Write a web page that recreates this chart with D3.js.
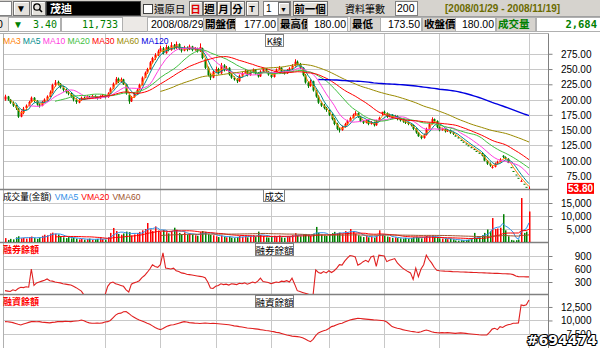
<!DOCTYPE html>
<html><head><meta charset="utf-8">
<script src="https://cdn.jsdelivr.net/npm/d3@7"></script>
<style>
body{margin:0;background:#fff;overflow:hidden}
svg{display:block}
</style></head><body>
<svg id="c" width="600" height="348"></svg>
<script>
// Daily bars, 2008/01/29 - 2008/11/19
const opens=[200,205,200,195,190,185,172,178,186,190,
196,203,198,192,190,196,200,205,212,224,
229,226,220,216,212,210,205,200,195,199,
203,202,205,203,206,204,202,205,207,204,
210,218,226,234,229,233,225,208,197,204,
209,216,224,236,244,250,261,268,273,279,
284,276,286,281,289,284,291,283,280,285,
282,287,281,284,279,284,266,252,240,236,
246,250,243,256,248,252,241,236,233,230,
239,243,247,240,245,249,243,238,246,250,
246,241,237,244,249,252,246,243,248,251,
255,262,258,252,240,228,222,230,215,205,
195,190,186,183,175,168,160,152,150,155,
160,165,170,175,178,172,165,162,166,160,
163,158,165,177,180,178,172,175,170,173,
168,166,164,162,160,158,152,146,140,137,
142,152,160,168,165,155,150,152,148,150,
146,141,138,134,131,128,125,122,119,116,
113,112,108,100,95,88,90,95,98,108,
106,103,89.4,83.1,77.3,71.9,66.5,62.2,57.2,53.6];
const highs=[208,206,201,197,191,186,182,188,192,198,
205,204,199,194,198,202,207,215,226,232,
231,227,222,218,214,211,207,202,201,205,
205,207,206,208,207,205,207,209,208,212,
220,228,237,236,236,234,226,210,206,211,
218,226,238,246,252,263,270,276,282,288,
286,290,288,294,291,295,292,285,288,287,
290,288,286,285,292,285,268,254,243,248,
254,252,260,258,255,253,243,238,235,241,
245,250,248,247,251,250,245,248,252,251,
247,243,246,251,255,253,248,250,253,258,
266,264,260,253,242,230,233,231,216,207,
197,193,188,184,177,170,162,154,157,162,
167,172,177,181,179,173,166,168,167,165,
164,167,172,180,182,179,177,176,175,174,
169,167,166,163,161,159,153,147,142,144,
154,162,171,169,166,157,154,153,152,151,
147,141.5,138,134,131,128,125,122,119,116,
113,113,109,101,97,92,97,100,104,109,
107,104,89.4,83.1,77.3,71.9,69,62.2,57.2,57.9];
const lows=[198,198,193,188,183,170,171,176,183,189,
195,196,190,187,189,194,198,204,210,221,
223,218,213,210,207,203,197,193,194,198,
200,201,201,202,202,200,201,204,202,203,
209,217,225,227,228,224,208,193,196,203,
208,215,223,235,242,249,259,265,271,277,
274,275,279,280,282,283,281,277,279,279,
281,279,280,277,278,266,250,238,232,235,
244,241,242,246,247,239,234,231,227,229,
237,242,238,239,243,241,236,237,245,244,
239,235,236,243,248,244,241,242,246,250,
254,256,250,238,226,219,221,213,203,193,
188,184,180,173,166,158,150,146,149,154,
158,164,169,173,170,163,160,161,158,159,
156,157,164,173.5,176,170,171,168,169,166,
164,162,160,158,156,150,144,139,135,136,
141,151,159,162,153,148,149,146,147,144,
142,140,137,133,130,127,124,121,118,115,
112,107,99,93,90,87,89,94,97,104,
102,96,89.4,83.1,77.3,71.9,66,62.2,57.2,53.6];
const closes=[205,200,195,190,186,172,178,185,190,196,
203,198,192,190,196,200,205,212,224,228,
226,220,216,212,210,205,200,196,199,203,
202,205,203,206,204,202,205,207,204,210,
218,226,234,229,233,225,210,197,204,209,
216,224,236,244,250,261,268,273,279,284,
276,286,281,289,284,291,283,280,285,282,
287,281,284,279,286,268,252,240,236,246,
250,243,256,248,252,241,236,233,230,239,
243,247,240,245,249,243,238,246,250,246,
241,237,244,249,252,246,243,248,251,255,
262,258,252,240,228,222,230,215,205,195,
190,186,183,175,168,160,152,150,155,160,
165,170,175,178,172,165,162,166,160,163,
158,165,170,180,178,172,175,170,173,168,
166,164,162,160,158,152,146,140,137,142,
152,160,168,165,155,150,152,148,150,146,
144,140,137,133,130,127,124,121,118,115,
112,108,100,95,92,90,95,98,102,106,
104,96.1,89.4,83.1,77.3,71.9,66.9,62.2,57.2,53.8];
const volumes=[1500,800,1200,1000,1800,2200,1400,1600,1300,1900,
2100,1500,1200,1700,2400,2800,2600,3300,3600,3200,
2900,2200,1800,1500,1900,1400,1700,1300,1000,1200,
900,1100,1300,800,1000,1200,1500,1100,900,1800,
3500,5400,4200,3100,2800,3300,4000,3800,2500,2900,
3400,3900,4500,5000,7300,4800,4200,6000,4400,3900,
4600,3800,3300,4100,5500,4700,3500,3000,3700,2800,
3300,2900,2600,2400,3800,4200,3900,3000,2800,2600,
2200,1900,2500,2100,1800,2000,1700,1500,1900,2300,
2000,2400,1800,2200,2600,1900,4000,2700,2300,1800,
1700,1900,2400,2100,2500,1800,1600,2000,2200,2600,
3400,2500,2200,2900,3100,2600,2400,3200,5800,3600,
2800,2500,2300,3000,3400,3900,3300,3600,3000,4200,
3800,5000,4100,3200,2600,2200,1900,2300,1800,2100,
1700,2500,4500,2684,2400,2100,1900,1600,1800,1500,
1400,1300,1600,1200,1500,1800,2000,1700,1400,1900,
2300,2100,2500,1800,1600,1400,1300,1200,1100,1300,
1000,600,500,700,600,800,900,1200,3500,1500,
1800,2600,3500,4800,4200,9200,5000,5200,5500,10700,
4500,2200,800,600,700,900,16900,3500,4000,11733];
// 融券餘額
const shortBalance=[100,90,80,120,100,150,180,170,190,180,
600,220,280,300,320,340,370,330,320,300,
290,280,260,250,240,230,200,170,130,90,
0,0,0,0,0,0,0,0,0,200,
280,300,260,240,220,200,120,70,250,280,
300,330,400,450,520,600,700,660,640,700,
970,620,610,600,620,560,540,510,500,480,
470,460,450,440,430,420,400,300,160,150,
200,220,260,240,250,230,260,250,240,270,
260,280,250,270,300,280,320,390,310,300,
290,260,280,300,290,320,310,330,300,390,
250,100,80,60,40,20,0,0,580,520,
500,540,510,560,520,560,620,700,690,780,
850,910,900,880,690,720,770,800,760,880,
900,660,920,910,900,770,800,820,840,740,
680,620,580,540,510,360,620,420,600,700,
920,820,740,640,570,560,555,550,548,545,
540,538,535,532,530,528,525,522,520,518,
515,512,510,508,505,502,500,498,495,492,
490,488,485,470,440,425,422,420,418,418];
// 融資餘額
const marginBalance=[9780,9750,9700,9600,9450,9300,9170,9350,9500,9650,
9780,9800,9750,9780,9700,9650,9600,9550,9650,9700,
9780,9800,9780,9850,9800,9780,9850,9900,9950,10090,
9950,9700,9550,9480,9480,9500,9480,9550,9700,9780,
10000,10500,11000,11300,11350,11600,11630,11300,10900,10600,
10300,10090,9900,9700,9480,9300,9000,8700,8450,8300,
8500,8800,9000,9170,9200,9350,9500,9650,9780,9700,
9600,9550,9500,9480,9450,9480,9500,9480,9450,9480,
9450,9400,9350,9300,9250,9200,9100,9000,8950,8860,
8800,8700,8600,8550,8500,8450,8400,8300,8240,8150,
8100,8000,7930,7800,7740,7600,7450,7300,7200,7100,
7050,7000,6950,6800,6550,6300,6080,6500,7200,7700,
7930,8100,8240,8500,8860,9000,9200,9400,9480,9700,
9900,10090,10200,10300,10400,10350,10300,10250,10200,10150,
10100,10090,10050,10000,9950,9700,9300,8860,8700,8550,
8450,8300,8200,8100,8000,7930,7850,7800,7900,8100,
8240,8100,7900,7800,7740,7700,7750,7700,7740,7700,
7650,7600,7650,7700,7650,7600,7550,7500,7450,7400,
7350,7320,7300,7320,7800,8400,8550,8300,8860,8700,
9000,9200,9300,9480,9480,9550,12870,12750,12900,13790];

const priceTicks=[75,100,125,150,175,200,225,250,275];
const volumeTicks=[5000,10000,15000];
const shortTicks=[300,600,900];
const marginTicks=[7500,10000,12500];
const maPeriods=[3,5,10,20,30,60,120];
const maNames=["MA3","MA5","MA10","MA20","MA30","MA60","MA120"];
const vmaPeriods=[5,20,60];
const vmaNames=["VMA5","VMA20","VMA60"];
// bar indices where a new month begins (Apr..Oct) plus the latest bar
const monthLines=[38,59,80,101,123,144,165,199];

const maColors=["#ff8000","#008c8c","#ff40e0","#40c040","#ff0000","#9a8a00","#0000e0"];
const vmaColors=["#2f8fe8","#ff0000","#a0522d"];
const UP="#ff0000", DOWN="#008000";
const CJK="'Noto Sans CJK TC','Noto Sans CJK SC',sans-serif";
const LAT="'Liberation Sans',Arial,sans-serif";

const svg=d3.select("#c");
const n=closes.length;
const L=4, R=548;

const x=d3.scaleLinear().domain([0,n-1]).range([5,529]);
const yP=d3.scaleLinear().domain([53.6,309]).range([189,33]);
const yV=d3.scaleLinear().domain([0,20000]).range([242,190]);
const yS=d3.scaleLinear().domain([0,1200]).range([295,243]);
const yM=d3.scaleLinear().domain([4900,14900]).range([348,294]);

function movingAvg(arr,p){
  return arr.map((v,i)=>{
    if(i<p-1) return null;
    let s=0; for(let k=i-p+1;k<=i;k++) s+=arr[k];
    return s/p;
  });
}
function barColor(i){
  if(closes[i]>opens[i]) return UP;
  if(closes[i]<opens[i]) return DOWN;
  return (i>0 && closes[i]<closes[i-1]) ? DOWN : UP;
}

// ---------- toolbar ----------
const tb=svg.append("g");
tb.append("rect").attr("x",0).attr("y",0).attr("width",600).attr("height",16).attr("fill","#d6d3ce");
tb.append("rect").attr("x",0).attr("y",16).attr("width",600).attr("height",16).attr("fill","#ece9e6");
tb.append("line").attr("x1",0).attr("x2",600).attr("y1",16.5).attr("y2",16.5).attr("stroke","#a0a0a0");
tb.append("line").attr("x1",0).attr("x2",600).attr("y1",31.5).attr("y2",31.5).attr("stroke","#a0a0a0");

function box(x0,y0,w,h,fill,stroke){
  return tb.append("rect").attr("x",x0+0.5).attr("y",y0+0.5).attr("width",w).attr("height",h)
    .attr("fill",fill).attr("stroke",stroke||"#808080");
}
function btn(x0,y0,w,h){
  box(x0,y0,w,h,"#e4e1dc","#707070");
  tb.append("path").attr("d",`M${x0+1.5},${y0+h-0.5}V${y0+1.5}H${x0+w-0.5}`).attr("fill","none").attr("stroke","#fff");
}
function txt(x0,y0,s,o){
  o=o||{};
  return tb.append("text").attr("x",x0).attr("y",y0).text(s)
    .attr("font-family",o.font||CJK).attr("font-size",o.size||11)
    .attr("font-weight",o.weight||"normal").attr("fill",o.fill||"#000")
    .attr("text-anchor",o.anchor||"start");
}
box(-1,1,12,14,"#fff");
btn(13,1,16,14); txt(21,12,"▼",{anchor:"middle",size:10,font:LAT});
btn(31,1,14,14);
tb.append("circle").attr("cx",37).attr("cy",7).attr("r",3.2).attr("fill","none").attr("stroke","#000").attr("stroke-width",1.3);
tb.append("line").attr("x1",39.3).attr("y1",9.3).attr("x2",42).attr("y2",12).attr("stroke","#000").attr("stroke-width",1.6);
box(46,1,94,14,"#000","#404040");
txt(50,12.5,"茂迪",{fill:"#fff",weight:"bold"});
box(143,4,9,9,"#fff","#404040");
txt(154,12.5,"還原日",{size:10.5});
btn(189,1,13,14); txt(195.5,12.5,"日",{anchor:"middle",fill:"#e00000",weight:"bold",size:10.5});
btn(203,1,13,14); txt(209.5,12.5,"週",{anchor:"middle",weight:"bold",size:10.5});
btn(217,1,13,14); txt(223.5,12.5,"月",{anchor:"middle",weight:"bold",size:10.5});
btn(231,1,13,14); txt(237.5,12.5,"分",{anchor:"middle",weight:"bold",size:10.5});
btn(246,1,12,14); txt(252,12,"T",{anchor:"middle",weight:"bold",size:9,font:LAT});
box(263,1,27,14,"#fff");
txt(266,12,"1",{font:LAT,size:10});
btn(278,2,11,12); txt(283.5,11.5,"▼",{anchor:"middle",size:7,font:LAT});
btn(293,1,34,14); txt(310,12.5,"前一個",{anchor:"middle",weight:"bold",size:10.5});
txt(345,12.5,"資料筆數",{size:10});
box(395,1,22,14,"#fff");
txt(397,12,"200",{font:LAT,size:10.5});
txt(445,12,"[2008/01/29 - 2008/11/19]",{font:LAT,size:10,weight:"bold",fill:"#6b6b00"});

// quote line
txt(-3,28,"0",{font:LAT,size:10.5});
box(8,17,52,14,"#fff","#b0b0b0");
txt(13,28,"▼",{font:LAT,size:10,fill:"#008000"});
txt(57,28,"3.40",{font:"'DejaVu Sans Mono',monospace",size:10,fill:"#008000",anchor:"end"});
box(61,17,61,14,"#fff","#b0b0b0");
txt(118,28,"11,733",{font:"'DejaVu Sans Mono',monospace",size:10,fill:"#008000",anchor:"end"});
box(147,17,56,14,"#fff","#b0b0b0");
txt(151,28,"2008/08/29",{font:LAT,size:10.5});
const cells=[[203,32,"開盤價",235,42,"177.00"],[278,29,"最高價",307,40,"180.00"],
  [350,30,"最低",380,41,"173.50"],[422,33,"收盤價",455,40,"180.00"]];
cells.forEach(c=>{
  box(c[0],17,c[1],14,"#d6d3ce","#b0b0b0");
  txt(c[0]+2,28,c[2],{size:10.5,weight:"bold"});
  box(c[3],17,c[4],14,"#fff","#b0b0b0");
  txt(c[3]+c[4]-1,28,c[5],{font:LAT,size:10.5,anchor:"end"});
});
box(496,17,39,14,"#d6d3ce","#b0b0b0");
txt(498,28,"成交量",{size:10.5,weight:"bold",fill:"#008000"});
box(536,17,65,14,"#fff","#b0b0b0");
txt(597,28,"2,684",{font:"'DejaVu Sans Mono',monospace",size:10.5,weight:"bold",fill:"#008000",anchor:"end"});

// ---------- chart panels ----------
const ch=svg.append("g");
const panels=[{top:33,bot:189,y:yP,ticks:priceTicks,fmt:d3.format(".2f")},
  {top:189,bot:242,y:yV,ticks:volumeTicks,fmt:d3.format(",")},
  {top:242,bot:294,y:yS,ticks:shortTicks,fmt:d3.format("d")},
  {top:294,bot:348,y:yM,ticks:marginTicks,fmt:d3.format(",")}];
const defs=svg.append("defs");
panels.forEach((p,k)=>{
  defs.append("clipPath").attr("id","clip"+k).append("rect")
    .attr("x",L).attr("y",p.top+1).attr("width",R-L).attr("height",p.bot-p.top-1);
  const g=ch.append("g");
  // horizontal grid
  g.selectAll(null).data(p.ticks).enter().append("line")
    .attr("x1",L).attr("x2",R).attr("y1",d=>Math.round(p.y(d))+0.5).attr("y2",d=>Math.round(p.y(d))+0.5)
    .attr("stroke","#c8c8c8");
  // vertical grid
  g.selectAll(null).data(monthLines).enter().append("line")
    .attr("x1",d=>Math.round(x(d))+0.5).attr("x2",d=>Math.round(x(d))+0.5)
    .attr("y1",p.top).attr("y2",p.bot).attr("stroke","#c8c8c8");
  // right axis
  const ax=d3.axisRight(p.y).tickValues(p.ticks).tickFormat(p.fmt).tickSize(4).tickPadding(0);
  const a=ch.append("g").attr("transform",`translate(${R+0.5},0)`).call(ax);
  a.select(".domain").remove();
  a.selectAll(".tick line").attr("stroke","#808080");
  a.selectAll(".tick text").attr("x",43).attr("text-anchor","end").attr("dy","0.35em")
    .attr("font-family",LAT).attr("font-size",10).attr("fill","#000");
});
// left edge, panel separators, right axis line
ch.append("line").attr("x1",L-0.5).attr("x2",L-0.5).attr("y1",33).attr("y2",348).attr("stroke","#b0b0b0");
ch.append("line").attr("x1",R+0.5).attr("x2",R+0.5).attr("y1",33).attr("y2",348).attr("stroke","#808080");
[33,189,242,294].forEach((yy,k)=>{
  ch.append("line").attr("x1",0).attr("x2",R+1).attr("y1",yy+0.5).attr("y2",yy+0.5)
    .attr("stroke",k===0?"#b0b0b0":"#808080").attr("stroke-width",k===0?1:1.5);
});

// candles
const cg=ch.append("g").attr("clip-path","url(#clip0)");
d3.range(n).forEach(i=>{
  const c=barColor(i), xi=Math.round(x(i));
  cg.append("line").attr("x1",xi+0.5).attr("x2",xi+0.5).attr("y1",yP(highs[i])).attr("y2",yP(lows[i]))
    .attr("stroke",c).attr("stroke-width",1);
  const t=yP(Math.max(opens[i],closes[i])), b=yP(Math.min(opens[i],closes[i]));
  cg.append("rect").attr("x",xi-0.5).attr("y",t).attr("width",2).attr("height",Math.max(1,b-t)).attr("fill",c);
});
// moving averages
const line=d3.line().defined(d=>d[1]!==null).x(d=>x(d[0])).y(d=>yP(d[1]));
maPeriods.forEach((p,k)=>{
  const m=movingAvg(closes,p).map((v,i)=>[i,v]);
  cg.append("path").attr("d",line(m)).attr("fill","none").attr("stroke",maColors[k])
    .attr("stroke-width",k===6?1.4:1);
});
// legend helper: labels laid out left to right at their natural widths
function legendRow(y0,items,x0,gap,size){
  let lx=x0;
  items.forEach(it=>{
    const t=ch.append("text").attr("x",lx).attr("y",y0).text(it.text)
      .attr("font-family",it.font||LAT).attr("font-size",size).attr("fill",it.color);
    lx+=t.node().getComputedTextLength()+gap;
  });
}
legendRow(44,maNames.map((nm,k)=>({text:nm,color:maColors[k]})),3,2.2,8.6);

function tag(x0,y0,w,s){
  ch.append("rect").attr("x",x0+0.5).attr("y",y0+0.5).attr("width",w).attr("height",12)
    .attr("fill","#fff").attr("stroke","#808080");
  ch.append("text").attr("x",x0+w/2+0.5).attr("y",y0+10.5).attr("text-anchor","middle").text(s)
    .attr("font-family",CJK).attr("font-size",9.5).attr("fill","#000");
}
tag(265,34,18,"K線");

// last price tag
const last=closes[n-1];
ch.append("rect").attr("x",567).attr("y",yP(last)-6).attr("width",27).attr("height",11).attr("fill","#ff0000");
ch.append("text").attr("x",580.5).attr("y",yP(last)+3).attr("text-anchor","middle").text(d3.format(".2f")(last))
  .attr("font-family",LAT).attr("font-size",10).attr("font-weight","bold").attr("fill","#fff");

// volume
const vg=ch.append("g").attr("clip-path","url(#clip1)");
d3.range(n).forEach(i=>{
  const xi=Math.round(x(i));
  vg.append("rect").attr("x",xi).attr("y",yV(volumes[i])).attr("width",1.5)
    .attr("height",yV(0)-yV(volumes[i])).attr("fill",barColor(i));
});
const vline=d3.line().defined(d=>d[1]!==null).x(d=>x(d[0])).y(d=>yV(d[1]));
vmaPeriods.forEach((p,k)=>{
  const m=movingAvg(volumes,p).map((v,i)=>[i,v]);
  vg.append("path").attr("d",vline(m)).attr("fill","none").attr("stroke",vmaColors[k]).attr("stroke-width",1);
});
legendRow(200,[{text:"成交量(金額)",color:"#000",font:CJK}]
  .concat(vmaNames.map((nm,k)=>({text:nm,color:vmaColors[k]}))),3,3,8.6);
tag(263,189,21,"成交");

// short balance
const sg=ch.append("g").attr("clip-path","url(#clip2)");
sg.append("path").attr("d",d3.line().x((d,i)=>x(i)).y(d=>yS(d))(shortBalance))
  .attr("fill","none").attr("stroke","#e02020").attr("stroke-width",1.1);
ch.append("text").attr("x",3).attr("y",253).text("融券餘額").attr("font-family",CJK).attr("font-size",9)
  .attr("font-weight","bold").attr("fill","#ff0000");
tag(255,243,38,"融券餘額");

// margin balance
const mg=ch.append("g").attr("clip-path","url(#clip3)");
mg.append("path").attr("d",d3.line().x((d,i)=>x(i)).y(d=>yM(d))(marginBalance))
  .attr("fill","none").attr("stroke","#e02020").attr("stroke-width",1.1);
ch.append("text").attr("x",3).attr("y",305).text("融資餘額").attr("font-family",CJK).attr("font-size",9)
  .attr("font-weight","bold").attr("fill","#ff0000");
tag(255,295,38,"融資餘額");

// watermark
svg.append("text").attr("x",597).attr("y",345).attr("text-anchor","end").text("#694474")
  .attr("font-family","'DejaVu Sans',sans-serif").attr("font-size",14).attr("font-weight","bold")
  .attr("fill","#fff").attr("stroke","#000").attr("stroke-width",2.2).attr("paint-order","stroke")
  .attr("stroke-linejoin","round");
</script>
</body></html>
